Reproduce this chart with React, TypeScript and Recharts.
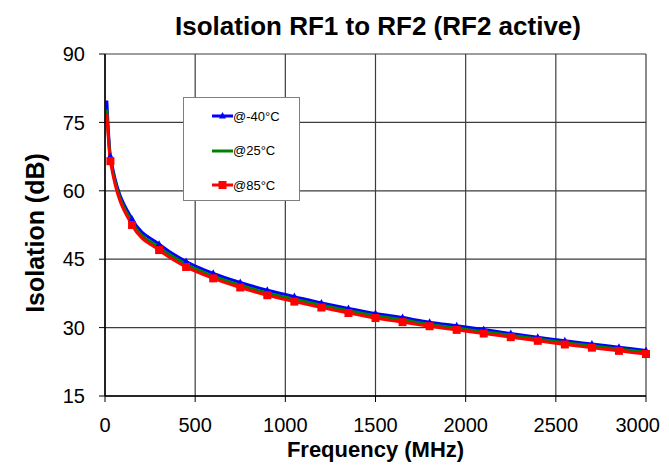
import React from "react";
import {
  LineChart,
  Line,
  XAxis,
  YAxis,
  CartesianGrid,
  Legend,
  Label,
} from "recharts";

// frequency points (MHz) and isolation (dB) per temperature
const freqs = [10, 30, 150, 300, 450, 600, 750, 900, 1050, 1200, 1350, 1500, 1650, 1800, 1950, 2100, 2250, 2400, 2550, 2700, 2850, 3000];
const isoM40 = [79.8, 67.6, 53.8, 48.3, 44.5, 41.9, 39.9, 38.2, 36.8, 35.4, 34.2, 33.1, 32.2, 31.2, 30.4, 29.6, 28.7, 27.9, 27.1, 26.4, 25.7, 25.0];
const iso25 = [77.8, 67.0, 53.1, 47.6, 43.9, 41.3, 39.3, 37.6, 36.2, 34.9, 33.7, 32.6, 31.7, 30.7, 29.9, 29.1, 28.3, 27.5, 26.7, 26.0, 25.3, 24.6];
const iso85 = [76.9, 66.5, 52.5, 47.0, 43.3, 40.8, 38.8, 37.1, 35.7, 34.4, 33.2, 32.1, 31.2, 30.3, 29.5, 28.7, 27.9, 27.1, 26.3, 25.6, 24.9, 24.2];
const xTicks = [0, 500, 1000, 1500, 2000, 2500, 3000];
const yTicks = [15, 30, 45, 60, 75, 90];

const data = freqs.map((f, i) => ({
  f,
  m40: isoM40[i],
  t25: iso25[i],
  t85: iso85[i],
}));

const FONT = "'Liberation Sans', Arial, sans-serif";

const series = [
  { key: "m40", name: "@-40°C", color: "#0000ff", marker: "triangle" },
  { key: "t25", name: "@25°C", color: "#008000", marker: "none" },
  { key: "t85", name: "@85°C", color: "#ff0000", marker: "square" },
];

const Triangle = (props: any) => {
  const { cx, cy, index } = props;
  if (index === 0 || cx == null) return <g key={`t${index}`} />;
  return (
    <path
      key={`t${index}`}
      d={`M${cx},${cy - 4} L${cx + 3.5},${cy + 2.5} L${cx - 3.5},${cy + 2.5} Z`}
      fill="#0000ff"
    />
  );
};

const Square = (props: any) => {
  const { cx, cy, index } = props;
  if (index === 0 || cx == null) return <g key={`s${index}`} />;
  return <rect key={`s${index}`} x={cx - 4} y={cy - 4} width={8} height={8} fill="#ff0000" />;
};

// x tick: last label is pulled in so it isn't cut at the right edge
const XTick = (props: any) => {
  const { x, y, payload, index } = props;
  const last = index === xTicks.length - 1;
  return (
    <text
      x={last ? x + 14 : x}
      y={y}
      dy="0.71em"
      textAnchor={last ? "end" : "middle"}
      fontFamily={FONT}
      fontSize={20}
      fill="#000"
    >
      {payload.value}
    </text>
  );
};

const LegendBox = () => (
  <div
    style={{
      position: "relative",
      width: 117,
      height: 104,
      boxSizing: "border-box",
      border: "1px solid #7f7f7f",
      background: "#fff",
      fontFamily: FONT,
      fontSize: 13,
      color: "#000",
    }}
  >
    {series.map((s, i) => (
      <div
        key={s.key}
        style={{
          position: "absolute",
          left: 28,
          top: 10 + i * 34.5,
          height: 16,
          display: "flex",
          alignItems: "center",
          whiteSpace: "nowrap",
        }}
      >
        <svg width={21} height={12}>
          <line x1={0} y1={6} x2={21} y2={6} stroke={s.color} strokeWidth={3} />
          {s.marker === "triangle" && <path d="M10.5,2 L14,8.5 L7,8.5 Z" fill={s.color} />}
          {s.marker === "square" && <rect x={6.5} y={2} width={8} height={8} fill={s.color} />}
        </svg>
        <span>{s.name}</span>
      </div>
    ))}
  </div>
);

export default function App() {
  return (
    <div style={{ position: "relative", width: 661, height: 460, background: "#fff" }}>
      <style>{`html, body { overflow: hidden; }`}</style>
      <div
        style={{
          position: "absolute",
          left: 70,
          top: 5,
          width: 600,
          textAlign: "center",
          fontFamily: FONT,
          fontWeight: "bold",
          fontSize: 26,
          lineHeight: "27px",
          color: "#000",
        }}
      >
        Isolation RF1 to RF2 (RF2 active)
      </div>
      <LineChart
        width={661}
        height={460}
        data={data}
        margin={{ top: 46, right: 23, left: 0, bottom: 0 }}
      >
        <CartesianGrid stroke="#3c3c3c" strokeWidth={1.2} />
        <XAxis
          dataKey="f"
          type="number"
          domain={[0, 3000]}
          ticks={xTicks}
          interval={0}
          height={72}
          tickSize={6}
          tickMargin={16}
          axisLine={{ stroke: "#000", strokeWidth: 1.5 }}
          tickLine={{ stroke: "#000" }}
          tick={XTick}
        >
          <Label
            content={({ viewBox }: any) => (
              <text
                x={viewBox.x + viewBox.width / 2}
                y={viewBox.y + 61}
                textAnchor="middle"
                fontFamily={FONT}
                fontWeight="bold"
                fontSize={22}
                fill="#000"
              >
                Frequency (MHz)
              </text>
            )}
          />
        </XAxis>
        <YAxis
          type="number"
          domain={[15, 90]}
          ticks={yTicks}
          interval={0}
          width={97}
          tickSize={6}
          tickMargin={14}
          axisLine={{ stroke: "#000", strokeWidth: 1.5 }}
          tickLine={{ stroke: "#000" }}
          tick={{ fontSize: 20, fill: "#000", fontFamily: FONT }}
        >
          <Label
            content={({ viewBox }: any) => {
              const cx = viewBox.x + 27;
              const cy = viewBox.y + viewBox.height / 2 + 8;
              return (
                <text
                  x={cx}
                  y={cy}
                  transform={`rotate(-90 ${cx} ${cy})`}
                  textAnchor="middle"
                  dominantBaseline="central"
                  fontFamily={FONT}
                  fontWeight="bold"
                  fontSize={25}
                  fill="#000"
                >
                  Isolation (dB)
                </text>
              );
            }}
          />
        </YAxis>
        <Legend
          layout="vertical"
          align="center"
          verticalAlign="middle"
          content={() => <LegendBox />}
          wrapperStyle={{ left: 175, top: 89, width: 117, height: 104 }}
        />
        <Line
          type="monotone"
          dataKey="m40"
          name="@-40°C"
          stroke="#0000ff"
          strokeWidth={3}
          dot={Triangle}
          isAnimationActive={false}
        />
        <Line
          type="monotone"
          dataKey="t25"
          name="@25°C"
          stroke="#008000"
          strokeWidth={3}
          dot={false}
          isAnimationActive={false}
        />
        <Line
          type="monotone"
          dataKey="t85"
          name="@85°C"
          stroke="#ff0000"
          strokeWidth={3}
          dot={Square}
          isAnimationActive={false}
        />
      </LineChart>
    </div>
  );
}
